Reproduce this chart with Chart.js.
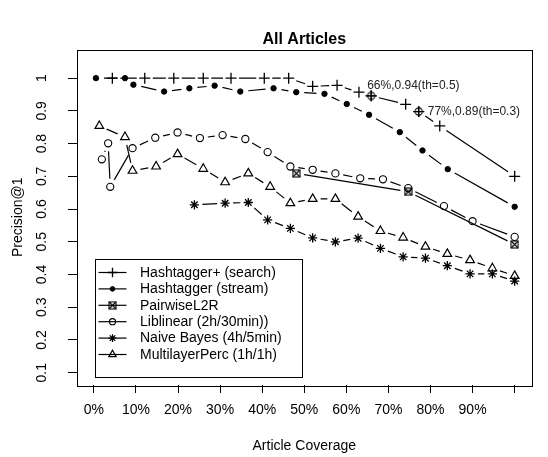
<!DOCTYPE html>
<html><head><meta charset="utf-8">
<script src="https://cdn.jsdelivr.net/npm/chart.js@4.4.1/dist/chart.umd.min.js"></script>
<style>html,body{margin:0;padding:0;background:#fff;}canvas{display:block;}</style>
</head><body>
<canvas id="c" width="548" height="457"></canvas>
<script>
// ---------- data ----------
const xTickValues = [0, 0.1, 0.2, 0.3, 0.4, 0.5, 0.6, 0.7, 0.8, 0.9, 1.0];
const xTickLabels = ['0%', '10%', '20%', '30%', '40%', '50%', '60%', '70%', '80%', '90%', ''];
const yTickValues = [0.1, 0.2, 0.3, 0.4, 0.5, 0.6, 0.7, 0.8, 0.9, 1.0];
const yTickLabels = ['0.1', '0.2', '0.3', '0.4', '0.5', '0.6', '0.7', '0.8', '0.9', '1'];

const seriesNames = ['Hashtagger+ (search)', 'Hashtagger (stream)', 'PairwiseL2R',
  'Liblinear (2h/30min))', 'Naive Bayes (4h/5min)', 'MultilayerPerc (1h/1h)'];

const hashtaggerPlusX = [0.044, 0.121, 0.190, 0.260, 0.326, 0.405, 0.463, 0.520, 0.578, 0.630, 0.659, 0.741, 0.772, 0.822, 1.0];
const hashtaggerPlusY = [1.0, 1.0, 1.0, 1.0, 1.0, 1.0, 1.0, 0.975, 0.978, 0.957, 0.946, 0.920, 0.898, 0.854, 0.700];

const hashtaggerStreamX = [0.005, 0.074, 0.094, 0.167, 0.227, 0.287, 0.348, 0.427, 0.481, 0.548, 0.601, 0.654, 0.727, 0.781, 0.841, 1.0];
const hashtaggerStreamY = [1.0, 1.0, 0.980, 0.959, 0.969, 0.977, 0.959, 0.969, 0.957, 0.952, 0.921, 0.888, 0.835, 0.779, 0.722, 0.607];

const pairwiseX = [0.481, 0.747, 1.0];
const pairwiseY = [0.709, 0.653, 0.492];

const liblinearX = [0.019, 0.034, 0.039, 0.092, 0.146, 0.199, 0.252, 0.306, 0.360, 0.413, 0.467, 0.520, 0.574, 0.633, 0.687, 0.747, 0.832, 0.900, 1.0];
const liblinearY = [0.752, 0.801, 0.668, 0.786, 0.818, 0.834, 0.817, 0.826, 0.814, 0.774, 0.730, 0.720, 0.709, 0.694, 0.691, 0.664, 0.609, 0.563, 0.515];

const naiveBayesX = [0.239, 0.312, 0.367, 0.413, 0.467, 0.520, 0.574, 0.628, 0.681, 0.735, 0.788, 0.840, 0.894, 0.947, 1.0];
const naiveBayesY = [0.613, 0.618, 0.620, 0.567, 0.541, 0.512, 0.500, 0.511, 0.480, 0.454, 0.450, 0.427, 0.402, 0.402, 0.380];

const mlpX = [0.013, 0.074, 0.092, 0.148, 0.199, 0.260, 0.312, 0.367, 0.419, 0.467, 0.520, 0.574, 0.628, 0.681, 0.735, 0.788, 0.840, 0.894, 0.947, 1.0];
const mlpY = [0.854, 0.820, 0.717, 0.730, 0.768, 0.723, 0.682, 0.709, 0.668, 0.618, 0.631, 0.631, 0.577, 0.533, 0.513, 0.485, 0.463, 0.444, 0.419, 0.396];

const thresholdX = [0.659, 0.772];
const thresholdY = [0.946, 0.898];
const thresholdLabels = ['66%,0.94(th=0.5)', '77%,0.89(th=0.3)'];

// ---------- styling ----------
const FONT = '"Liberation Sans", Arial, Helvetica, sans-serif';
const GAP = 8;

function makeMarker(kind) {
  const c = document.createElement('canvas');
  if (kind === 'boxX') {
    c.width = 9; c.height = 9;
    const g = c.getContext('2d');
    g.strokeStyle = '#000'; g.lineWidth = 1.1;
    g.strokeRect(1, 1, 7, 7);
    g.beginPath(); g.moveTo(1, 1); g.lineTo(8, 8); g.moveTo(8, 1); g.lineTo(1, 8); g.stroke();
  } else {
    c.width = 13; c.height = 13;
    const g = c.getContext('2d');
    g.strokeStyle = '#000'; g.lineWidth = 1.1;
    g.beginPath(); g.arc(6.5, 6.5, 3.6, 0, Math.PI * 2); g.stroke();
    g.beginPath(); g.moveTo(1, 6.5); g.lineTo(12, 6.5); g.moveTo(6.5, 1); g.lineTo(6.5, 12); g.stroke();
  }
  return c;
}
const boxXMarker = makeMarker('boxX');
const circlePlusMarker = makeMarker('circlePlus');

function pts(xs, ys) { return xs.map((x, i) => ({ x: x, y: ys[i] })); }

function series(name, xs, ys, style, radius, fill, bw) {
  return {
    label: name, data: pts(xs, ys), borderColor: '#000', borderWidth: 1.2,
    pointStyle: style, pointRadius: radius, pointHoverRadius: radius,
    pointBackgroundColor: fill, pointBorderColor: '#000', pointBorderWidth: bw,
    fill: false, tension: 0, showLine: false, gappedLine: true
  };
}

const datasets = [
  series(seriesNames[0], hashtaggerPlusX, hashtaggerPlusY, 'cross', 5.5, 'rgba(0,0,0,0)', 1.3),
  series(seriesNames[1], hashtaggerStreamX, hashtaggerStreamY, 'circle', 2.7, '#000', 1),
  series(seriesNames[2], pairwiseX, pairwiseY, boxXMarker, 4, 'rgba(0,0,0,0)', 1),
  series(seriesNames[3], liblinearX, liblinearY, 'circle', 3.6, 'rgba(0,0,0,0)', 1.1),
  series(seriesNames[4], naiveBayesX, naiveBayesY, 'star', 4.6, 'rgba(0,0,0,0)', 1.3),
  series(seriesNames[5], mlpX, mlpY, 'triangle', 5, 'rgba(0,0,0,0)', 1.2),
  {
    label: 'thresholds', data: pts(thresholdX, thresholdY), showLine: false,
    pointStyle: circlePlusMarker, pointRadius: 6, borderColor: '#000'
  }
];

// ---------- plugins ----------
// R "type='b'" lines: segments between the library-placed points, with a gap at each point
const gappedLinePlugin = {
  id: 'gappedLine',
  beforeDatasetDraw(chart, args) {
    const ds = chart.data.datasets[args.index];
    if (!ds.gappedLine) return;
    const p = args.meta.data;
    const ctx = chart.ctx;
    ctx.save();
    ctx.strokeStyle = ds.borderColor; ctx.lineWidth = ds.borderWidth; ctx.lineCap = 'butt';
    ctx.setLineDash([]);
    ctx.beginPath();
    for (let i = 1; i < p.length; i++) {
      const x0 = p[i - 1].x, y0 = p[i - 1].y, x1 = p[i].x, y1 = p[i].y;
      const L = Math.hypot(x1 - x0, y1 - y0);
      if (L <= 2 * GAP) continue;
      const ux = (x1 - x0) / L, uy = (y1 - y0) / L;
      ctx.moveTo(x0 + ux * GAP, y0 + uy * GAP);
      ctx.lineTo(x1 - ux * GAP, y1 - uy * GAP);
    }
    ctx.stroke();
    ctx.restore();
  }
};

const framePlugin = {
  id: 'frame',
  afterDraw(chart) {
    const { ctx, chartArea: ca } = chart;
    ctx.save();
    ctx.strokeStyle = '#000'; ctx.lineWidth = 1;
    ctx.strokeRect(Math.round(ca.left) + 0.5, Math.round(ca.top) + 0.5,
      Math.round(ca.right - ca.left), Math.round(ca.bottom - ca.top));
    // titles
    ctx.fillStyle = '#000';
    ctx.textAlign = 'center'; ctx.textBaseline = 'middle';
    const cx = (ca.left + ca.right) / 2;
    ctx.font = 'bold 16px ' + FONT;
    ctx.fillText('All Articles', cx, 40);
    ctx.font = '14px ' + FONT;
    ctx.fillText('Article Coverage', cx, 446);
    ctx.save();
    ctx.translate(18, (ca.top + ca.bottom) / 2);
    ctx.rotate(-Math.PI / 2);
    ctx.fillText('Precision@1', 0, 0);
    ctx.restore();
    // threshold annotations
    const xs = chart.scales.x, ys = chart.scales.y;
    ctx.font = '12px ' + FONT;
    ctx.fillStyle = '#222';
    ctx.textAlign = 'left';
    const offs = [[-4, -10], [9, 0]];
    thresholdLabels.forEach((t, i) => {
      const px = xs.getPixelForValue(thresholdX[i]), py = ys.getPixelForValue(thresholdY[i]);
      ctx.fillText(t, px + offs[i][0], py + offs[i][1]);
    });
    // legend
    const left = ca.left + 17.5, bottom = ca.bottom - 9;
    const rowH = 16.4, top = bottom - 117.5;
    ctx.strokeStyle = '#000'; ctx.lineWidth = 1;
    ctx.strokeRect(Math.round(left) + 0.5, Math.round(top) + 0.5, 207, Math.round(bottom - top));
    ctx.font = '14px ' + FONT;
    ctx.textBaseline = 'middle';
    for (let i = 0; i < 6; i++) {
      const ds = chart.data.datasets[i];
      const y = top + 14 + i * rowH;
      ctx.strokeStyle = '#000'; ctx.lineWidth = 1.2; ctx.setLineDash([]);
      ctx.beginPath(); ctx.moveTo(left + 4, y); ctx.lineTo(left + 32, y); ctx.stroke();
      ctx.fillStyle = ds.pointBackgroundColor;
      ctx.lineWidth = ds.pointBorderWidth;
      Chart.helpers.drawPoint(ctx, { pointStyle: ds.pointStyle, radius: ds.pointRadius * 0.85, rotation: 0, borderWidth: ds.pointBorderWidth }, left + 18, y);
      ctx.fillStyle = '#000';
      ctx.fillText(ds.label, left + 45.5, y + 0.5);
    }
    ctx.restore();
  }
};

new Chart(document.getElementById('c'), {
  type: 'line',
  data: { datasets: datasets },
  options: {
    responsive: false, animation: false, devicePixelRatio: 1,
    layout: { padding: { top: 49.5, right: 16.5, left: 0, bottom: 0 } },
    plugins: { legend: { display: false }, tooltip: { enabled: false }, title: { display: false } },
    scales: {
      x: {
        type: 'linear', min: -0.04, max: 1.04,
        afterBuildTicks: s => { s.ticks = xTickValues.map(v => ({ value: v })); },
        afterFit: s => { s.height = 72; },
        ticks: { callback: (v, i) => xTickLabels[i], color: '#000', font: { family: FONT, size: 14 }, padding: 9, maxRotation: 0, minRotation: 0, autoSkip: false },
        grid: { drawOnChartArea: false, drawTicks: true, tickLength: 8, color: '#000', lineWidth: 1 },
        border: { display: false }
      },
      y: {
        type: 'linear', min: 0.0625, max: 1.0875,
        afterBuildTicks: s => { s.ticks = yTickValues.map(v => ({ value: v })); },
        afterFit: s => { s.width = 77; },
        ticks: { callback: (v, i) => yTickLabels[i], color: '#000', font: { family: FONT, size: 14 }, padding: 16.5, minRotation: 90, maxRotation: 90, crossAlign: 'center', autoSkip: false },
        grid: { drawOnChartArea: false, drawTicks: true, tickLength: 9, color: '#000', lineWidth: 1 },
        border: { display: false }
      }
    }
  },
  plugins: [gappedLinePlugin, framePlugin]
});
</script>
</body></html>
